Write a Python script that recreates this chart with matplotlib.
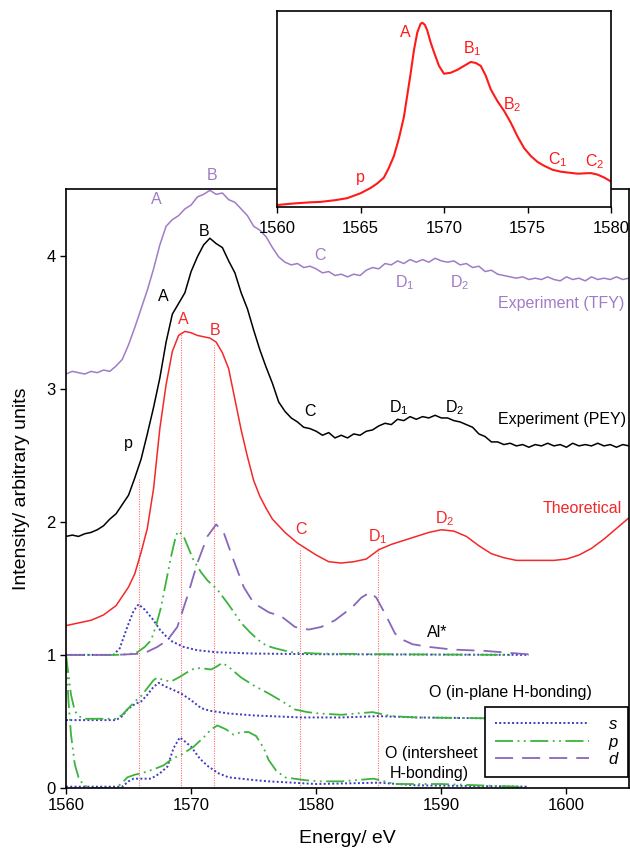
import numpy as np
import matplotlib
matplotlib.use("Agg")
import matplotlib.pyplot as plt
from matplotlib.lines import Line2D

plt.rcParams['font.family'] = ['Liberation Sans', 'DejaVu Sans']
plt.rcParams['mathtext.default'] = 'regular'

# ---------------- data ----------------
# experimental spectra on a 0.5 eV grid (1560 ... 1605 eV)
exp_energy = np.arange(1560.0, 1605.01, 0.5)

tfy = [3.11, 3.13, 3.12, 3.11, 3.13, 3.12, 3.14, 3.13, 3.17, 3.22,
       3.33, 3.46, 3.60, 3.74, 3.90, 4.08, 4.22, 4.27, 4.30, 4.35,
       4.38, 4.44, 4.46, 4.49, 4.46, 4.47, 4.42, 4.40, 4.35, 4.30,
       4.22, 4.19, 4.14, 4.06, 3.99, 3.95, 3.93, 3.94, 3.91, 3.92,
       3.90, 3.87, 3.88, 3.85, 3.86, 3.84, 3.86, 3.85, 3.89, 3.91,
       3.90, 3.94, 3.93, 3.96, 3.94, 3.97, 3.95, 3.97, 3.95, 3.98,
       3.96, 3.95, 3.96, 3.93, 3.94, 3.91, 3.92, 3.88, 3.89, 3.86,
       3.85, 3.84, 3.83, 3.84, 3.82, 3.83, 3.82, 3.84, 3.82, 3.81,
       3.84, 3.82, 3.83, 3.81, 3.84, 3.82, 3.83, 3.82, 3.84, 3.82,
       3.83]

pey = [1.89, 1.90, 1.89, 1.91, 1.92, 1.94, 1.97, 2.02, 2.06, 2.13,
       2.20, 2.33, 2.47, 2.66, 2.86, 3.08, 3.35, 3.56, 3.64, 3.72,
       3.88, 3.99, 4.08, 4.13, 4.09, 4.06, 3.96, 3.87, 3.72, 3.60,
       3.44, 3.29, 3.16, 3.04, 2.90, 2.83, 2.78, 2.75, 2.71, 2.70,
       2.68, 2.65, 2.67, 2.63, 2.65, 2.63, 2.66, 2.65, 2.68, 2.69,
       2.72, 2.74, 2.73, 2.77, 2.76, 2.79, 2.77, 2.79, 2.78, 2.80,
       2.78, 2.78, 2.76, 2.75, 2.73, 2.71, 2.66, 2.64, 2.60, 2.60,
       2.58, 2.59, 2.57, 2.58, 2.56, 2.58, 2.57, 2.59, 2.57, 2.58,
       2.56, 2.59, 2.57, 2.58, 2.57, 2.59, 2.57, 2.58, 2.56, 2.58,
       2.57]

theo_x = [1560, 1561, 1562, 1563, 1564, 1565, 1565.5, 1566, 1566.5, 1567,
          1567.5, 1568, 1568.5, 1569, 1569.5, 1570, 1570.5, 1571, 1571.5, 1572,
          1572.5, 1573, 1573.5, 1574, 1574.5, 1575, 1575.5, 1576, 1576.5, 1577,
          1577.5, 1578, 1578.5, 1579, 1580, 1581, 1582, 1583, 1584, 1585,
          1586, 1587, 1588, 1589, 1590, 1591, 1592, 1593, 1594, 1595,
          1596, 1597, 1598, 1599, 1600, 1601, 1602, 1603, 1604, 1605]
theo_y = [1.22, 1.24, 1.26, 1.30, 1.37, 1.51, 1.61, 1.77, 1.95, 2.25,
          2.70, 3.03, 3.28, 3.40, 3.43, 3.42, 3.40, 3.39, 3.38, 3.35,
          3.27, 3.15, 2.92, 2.69, 2.49, 2.31, 2.19, 2.10, 2.02, 1.97,
          1.92, 1.88, 1.84, 1.81, 1.75, 1.70, 1.69, 1.70, 1.72, 1.79,
          1.83, 1.86, 1.89, 1.92, 1.94, 1.93, 1.89, 1.82, 1.76, 1.73,
          1.71, 1.71, 1.71, 1.71, 1.72, 1.75, 1.80, 1.87, 1.95, 2.03]

# Al* partial DOS (offset 1)
al_s_x = [1560, 1563.8, 1564.3, 1564.9, 1565.4, 1565.8, 1566.3, 1567, 1567.5, 1568,
          1568.5, 1569.4, 1570.5, 1572, 1575, 1580, 1597]
al_s_y = [1.0, 1.0, 1.05, 1.21, 1.33, 1.38, 1.34, 1.26, 1.19, 1.14,
          1.10, 1.06, 1.035, 1.02, 1.01, 1.005, 1.0]
al_p_x = [1560, 1564, 1565, 1565.7, 1566.3, 1566.8, 1567.2, 1567.6, 1568, 1568.4,
          1568.8, 1569, 1569.4, 1569.8, 1570.2, 1570.8, 1571.3, 1572.1, 1572.9, 1573.5,
          1574, 1574.7, 1575.4, 1576, 1576.7, 1578, 1580, 1585, 1595.5]
al_p_y = [1.0, 1.0, 1.005, 1.02, 1.06, 1.11, 1.22, 1.36, 1.55, 1.74,
          1.90, 1.93, 1.89, 1.80, 1.71, 1.62, 1.56, 1.49, 1.39, 1.31,
          1.24, 1.17, 1.11, 1.07, 1.05, 1.02, 1.01, 1.005, 1.0]
al_d_x = [1560, 1564, 1566.2, 1567.3, 1568.1, 1568.9, 1569.7, 1570.5, 1571.3, 1572,
          1572.6, 1573.4, 1574.2, 1575, 1576.2, 1577.2, 1578.3, 1579.4, 1580.4, 1581.5,
          1582.9, 1583.6, 1584.3, 1584.8, 1585.5, 1586.3, 1587, 1587.7, 1589, 1590.9,
          1593.5, 1595.5, 1597.5]
al_d_y = [1.0, 1.0, 1.01, 1.06, 1.11, 1.21, 1.44, 1.69, 1.89, 1.98,
          1.92, 1.71, 1.51, 1.39, 1.32, 1.29, 1.21, 1.19, 1.21, 1.26,
          1.36, 1.43, 1.47, 1.43, 1.31, 1.16, 1.11, 1.08, 1.06, 1.04,
          1.03, 1.015, 1.0]

# O (in-plane H-bonding), offset 0.5
oi_s_x = [1560, 1564, 1564.5, 1564.9, 1565.5, 1566, 1566.5, 1567, 1567.4, 1568,
          1568.5, 1569.2, 1570, 1570.8, 1571.5, 1573, 1575, 1578.8, 1582, 1585,
          1588, 1597]
oi_s_y = [0.51, 0.51, 0.54, 0.59, 0.63, 0.65, 0.70, 0.76, 0.79, 0.76,
          0.74, 0.71, 0.66, 0.60, 0.58, 0.56, 0.545, 0.53, 0.53, 0.54,
          0.53, 0.52]
oi_p_x = [1560, 1560.2, 1560.4, 1560.7, 1561, 1561.5, 1564, 1564.5, 1564.9, 1565.5,
          1566, 1566.5, 1567, 1567.3, 1567.8, 1568.4, 1569, 1569.7, 1570.3, 1570.8,
          1571.6, 1572, 1572.5, 1573, 1574, 1575, 1576.2, 1577.3, 1578.3, 1579.3,
          1580.2, 1582, 1584.5, 1586, 1588, 1597]
oi_p_y = [1.0, 0.85, 0.70, 0.58, 0.54, 0.52, 0.52, 0.55, 0.59, 0.65,
          0.69, 0.75, 0.81, 0.83, 0.81, 0.80, 0.83, 0.87, 0.90, 0.90,
          0.89, 0.91, 0.94, 0.91, 0.83, 0.77, 0.71, 0.65, 0.59, 0.57,
          0.56, 0.55, 0.57, 0.54, 0.53, 0.52]

# O (intersheet H-bonding), offset 0
ox_s_x = [1560, 1564.5, 1565, 1565.4, 1566.8, 1567.5, 1568.1, 1568.6, 1569.1, 1569.5,
          1570, 1570.7, 1571.4, 1572.2, 1573, 1575, 1576.2, 1580, 1585, 1588, 1597]
ox_s_y = [0.01, 0.01, 0.05, 0.07, 0.07, 0.11, 0.16, 0.30, 0.38, 0.35,
          0.31, 0.22, 0.16, 0.11, 0.08, 0.06, 0.05, 0.03, 0.04, 0.02, 0.01]
ox_p_x = [1560, 1560.2, 1560.4, 1560.7, 1561, 1561.4, 1562, 1564, 1564.5, 1564.9,
          1565.5, 1566, 1567, 1567.8, 1568.5, 1569.2, 1570.2, 1571, 1571.6, 1572.1,
          1572.8, 1573.4, 1574, 1574.6, 1575.2, 1575.8, 1576.2, 1576.8, 1577.5, 1579,
          1580.2, 1582, 1584.6, 1586.3, 1590, 1596, 1597]
ox_p_y = [1.0, 0.65, 0.40, 0.18, 0.08, 0.02, 0.0, 0.0, 0.04, 0.08,
          0.10, 0.11, 0.14, 0.17, 0.22, 0.25, 0.31, 0.38, 0.44, 0.47,
          0.44, 0.40, 0.42, 0.42, 0.39, 0.30, 0.21, 0.13, 0.08, 0.06,
          0.05, 0.05, 0.07, 0.03, 0.03, 0.01, 0.0]

# guide lines (energy, top intensity)
guide_x = [1565.8, 1569.2, 1571.8, 1578.7, 1584.9]
guide_top = [2.32, 3.43, 3.33, 1.80, 1.80]

# inset spectrum
ins_x = [1560, 1561, 1562, 1562.6, 1563.5, 1564.2, 1565, 1565.6, 1566, 1566.4,
         1566.7, 1567, 1567.3, 1567.6, 1568, 1568.2, 1568.4, 1568.6, 1568.7, 1568.85,
         1569, 1569.2, 1569.4, 1569.7, 1570, 1570.4, 1570.8, 1571.2, 1571.6, 1571.9,
         1572.2, 1572.5, 1572.8, 1573.2, 1573.6, 1574, 1574.4, 1574.8, 1575.2, 1575.6,
         1576, 1576.5, 1577, 1577.5, 1578, 1578.5, 1578.8, 1579.2, 1579.6, 1580]
ins_y = [0.010, 0.018, 0.024, 0.026, 0.035, 0.045, 0.070, 0.097, 0.12, 0.15,
         0.20, 0.26, 0.35, 0.46, 0.68, 0.80, 0.89, 0.935, 0.94, 0.93,
         0.90, 0.84, 0.79, 0.72, 0.68, 0.685, 0.70, 0.72, 0.74, 0.735,
         0.72, 0.67, 0.60, 0.54, 0.49, 0.43, 0.36, 0.30, 0.26, 0.23,
         0.21, 0.19, 0.18, 0.175, 0.17, 0.172, 0.173, 0.165, 0.15, 0.13]

x_ticks = [1560, 1570, 1580, 1590, 1600]
y_ticks = [0, 1, 2, 3, 4]
inset_ticks = [1560, 1565, 1570, 1575, 1580]

# ---------------- styles ----------------
C_TFY = '#A07CC6'
C_PEY = 'black'
C_RED = '#F42828'
C_S = '#3C3CC0'
C_P = '#3CB43C'
C_D = '#8866BB'
LS_S = (0, (1, 1.2))
LS_P = (0, (10, 2.5, 1, 2.5, 1, 2.5))
LS_D = (0, (10, 5))

fig = plt.figure(figsize=(6.3, 8.57), dpi=100)
ax = fig.add_axes([66 / 630, 1 - 788 / 857, 563 / 630, 599 / 857])

ax.plot(exp_energy, tfy, color=C_TFY, lw=1.1)
ax.plot(exp_energy, pey, color=C_PEY, lw=1.1)
ax.plot(theo_x, theo_y, color=C_RED, lw=1.1)

for gx, gt in zip(guide_x, guide_top):
    ax.plot([gx, gx], [0, gt], color='#FF7070', lw=0.8, ls=(0, (1, 1.2)), zorder=1)

for (xs, ys, xp, yp) in [(al_s_x, al_s_y, al_p_x, al_p_y),
                         (oi_s_x, oi_s_y, oi_p_x, oi_p_y),
                         (ox_s_x, ox_s_y, ox_p_x, ox_p_y)]:
    ax.plot(xs, ys, color=C_S, lw=1.4, ls=LS_S)
    ax.plot(xp, yp, color=C_P, lw=1.3, ls=LS_P)
ax.plot(al_d_x, al_d_y, color=C_D, lw=1.3, ls=LS_D)

ax.set_xlim(1560, 1605)
ax.set_ylim(0, 4.5)
ax.set_xticks(x_ticks)
ax.set_yticks(y_ticks)
ax.tick_params(direction='out', length=4, width=1, labelsize=12, top=False, right=False)
for sp in ax.spines.values():
    sp.set_linewidth(1.2)
ax.set_xlabel('Energy/ eV', fontsize=14, labelpad=12)
ax.set_ylabel('Intensity/ arbitrary units', fontsize=14, labelpad=12)

fs = 11.5
# TFY labels
ax.text(1567.2, 4.42, 'A', color=C_TFY, fontsize=fs, ha='center', va='center')
ax.text(1571.7, 4.60, 'B', color=C_TFY, fontsize=fs, ha='center', va='center', clip_on=False)
ax.text(1580.3, 4.00, 'C', color=C_TFY, fontsize=fs, ha='center', va='center')
ax.text(1587.1, 3.80, 'D$_1$', color=C_TFY, fontsize=fs, ha='center', va='center')
ax.text(1591.5, 3.80, 'D$_2$', color=C_TFY, fontsize=fs, ha='center', va='center')
ax.text(1604.6, 3.64, 'Experiment (TFY)', color=C_TFY, fontsize=fs, ha='right', va='center')
# PEY labels
ax.text(1565.0, 2.59, 'p', color='black', fontsize=fs, ha='center', va='center')
ax.text(1567.8, 3.69, 'A', color='black', fontsize=fs, ha='center', va='center')
ax.text(1571.0, 4.18, 'B', color='black', fontsize=fs, ha='center', va='center')
ax.text(1579.5, 2.83, 'C', color='black', fontsize=fs, ha='center', va='center')
ax.text(1586.6, 2.86, 'D$_1$', color='black', fontsize=fs, ha='center', va='center')
ax.text(1591.1, 2.86, 'D$_2$', color='black', fontsize=fs, ha='center', va='center')
ax.text(1604.8, 2.77, 'Experiment (PEY)', color='black', fontsize=fs, ha='right', va='center')
# theoretical labels
ax.text(1569.4, 3.52, 'A', color=C_RED, fontsize=fs, ha='center', va='center')
ax.text(1571.9, 3.44, 'B', color=C_RED, fontsize=fs, ha='center', va='center')
ax.text(1578.8, 1.94, 'C', color=C_RED, fontsize=fs, ha='center', va='center')
ax.text(1584.9, 1.89, 'D$_1$', color=C_RED, fontsize=fs, ha='center', va='center')
ax.text(1590.3, 2.02, 'D$_2$', color=C_RED, fontsize=fs, ha='center', va='center')
ax.text(1604.4, 2.10, 'Theoretical', color=C_RED, fontsize=fs, ha='right', va='center')
# component labels
ax.text(1589.7, 1.17, 'Al*', color='black', fontsize=fs, ha='center', va='center')
ax.text(1589.0, 0.72, 'O (in-plane H-bonding)', color='black', fontsize=fs, ha='left', va='center')
ax.text(1589.2, 0.26, 'O (intersheet', color='black', fontsize=fs, ha='center', va='center')
ax.text(1589.0, 0.11, 'H-bonding)', color='black', fontsize=fs, ha='center', va='center')

handles = [Line2D([], [], color=C_S, lw=1.4, ls=LS_S),
           Line2D([], [], color=C_P, lw=1.3, ls=LS_P),
           Line2D([], [], color=C_D, lw=1.3, ls=LS_D)]
leg = ax.legend(handles, ['s', 'p', 'd'], loc='upper right',
                bbox_to_anchor=(0.998, 0.135), borderaxespad=0,
                prop={'style': 'italic', 'size': 12}, handlelength=5.6,
                handletextpad=1.2, labelspacing=0.15, fancybox=False,
                framealpha=1, edgecolor='black', borderpad=0.6)
leg.get_frame().set_linewidth(1.2)

# inset
axi = fig.add_axes([277 / 630, 1 - 207 / 857, 334 / 630, 196 / 857])
axi.set_facecolor('white')
axi.plot(ins_x, ins_y, color='#FF1A1A', lw=1.5)
axi.set_xlim(1560, 1580)
axi.set_ylim(0, 1)
axi.set_xticks(inset_ticks)
axi.set_yticks([])
axi.tick_params(direction='out', length=4, width=1, labelsize=12, pad=6)
for sp in axi.spines.values():
    sp.set_linewidth(1.2)
ic = '#FF1A1A'
axi.text(1565.0, 0.15, 'p', color=ic, fontsize=fs, ha='center', va='center')
axi.text(1567.7, 0.89, 'A', color=ic, fontsize=fs, ha='center', va='center')
axi.text(1571.7, 0.81, 'B$_1$', color=ic, fontsize=fs, ha='center', va='center')
axi.text(1574.1, 0.52, 'B$_2$', color=ic, fontsize=fs, ha='center', va='center')
axi.text(1576.8, 0.24, 'C$_1$', color=ic, fontsize=fs, ha='center', va='center')
axi.text(1579.0, 0.23, 'C$_2$', color=ic, fontsize=fs, ha='center', va='center')

fig.savefig('out.png', dpi=100)
